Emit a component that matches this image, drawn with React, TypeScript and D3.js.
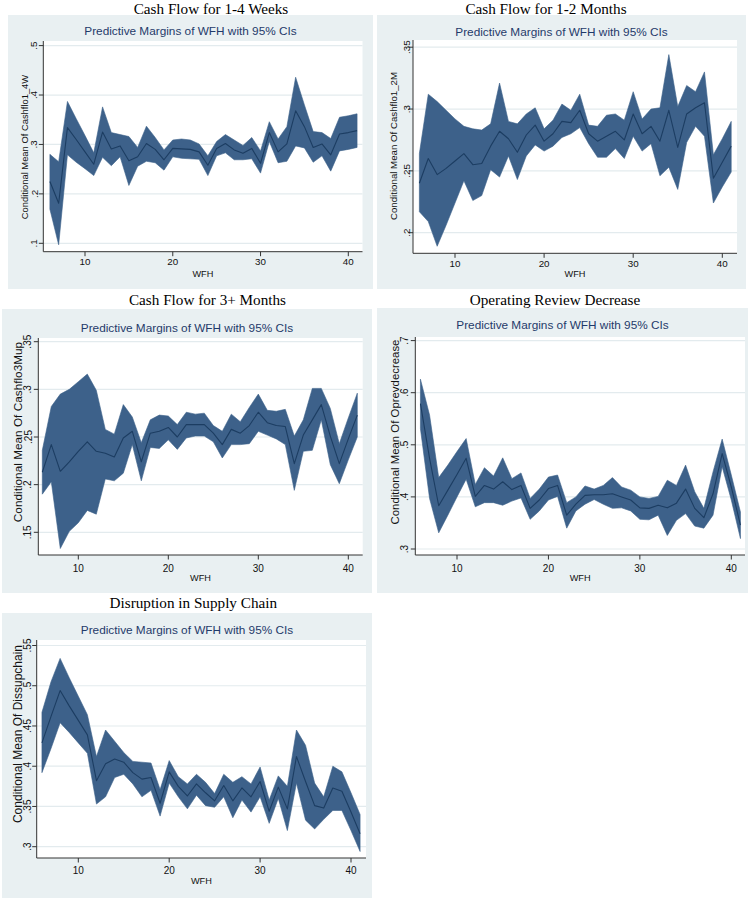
import React from 'react';
import * as d3 from 'd3';

const WFH = [6, 7, 8, 9, 10, 11, 12, 13, 14, 15, 16, 17, 18, 19, 20, 21, 22, 23, 24, 25, 26, 27, 28, 29, 30, 31, 32, 33, 34, 35, 36, 37, 38, 39, 40, 41];

const cf14Mean = [0.225, 0.181, 0.334, 0.310, 0.285, 0.260, 0.325, 0.291, 0.297, 0.267, 0.275, 0.302, 0.290, 0.269, 0.292, 0.291, 0.290, 0.285, 0.258, 0.292, 0.302, 0.289, 0.282, 0.292, 0.262, 0.324, 0.285, 0.301, 0.368, 0.336, 0.294, 0.301, 0.279, 0.321, 0.324, 0.328];
const cf14Upper = [0.280, 0.265, 0.387, 0.352, 0.318, 0.283, 0.376, 0.324, 0.320, 0.316, 0.294, 0.337, 0.314, 0.289, 0.309, 0.311, 0.309, 0.301, 0.277, 0.306, 0.320, 0.309, 0.298, 0.314, 0.287, 0.346, 0.311, 0.336, 0.436, 0.380, 0.326, 0.324, 0.312, 0.355, 0.358, 0.362];
const cf14Lower = [0.169, 0.097, 0.279, 0.264, 0.251, 0.237, 0.274, 0.257, 0.275, 0.217, 0.256, 0.266, 0.263, 0.248, 0.275, 0.272, 0.271, 0.270, 0.237, 0.277, 0.283, 0.269, 0.269, 0.271, 0.242, 0.306, 0.263, 0.266, 0.297, 0.293, 0.264, 0.277, 0.246, 0.287, 0.290, 0.294];

const cf12Mean = [0.240, 0.260, 0.247, 0.252, 0.258, 0.264, 0.255, 0.256, 0.270, 0.282, 0.276, 0.265, 0.279, 0.287, 0.274, 0.280, 0.290, 0.289, 0.299, 0.280, 0.274, 0.278, 0.282, 0.275, 0.296, 0.280, 0.286, 0.274, 0.299, 0.269, 0.296, 0.301, 0.305, 0.244, 0.257, 0.270];
const cf12Upper = [0.264, 0.312, 0.306, 0.299, 0.292, 0.286, 0.284, 0.283, 0.288, 0.321, 0.290, 0.288, 0.296, 0.301, 0.284, 0.291, 0.304, 0.299, 0.312, 0.287, 0.286, 0.295, 0.296, 0.291, 0.314, 0.292, 0.300, 0.301, 0.344, 0.302, 0.319, 0.314, 0.330, 0.263, 0.276, 0.290];
const cf12Lower = [0.217, 0.209, 0.189, 0.206, 0.224, 0.242, 0.226, 0.230, 0.251, 0.245, 0.262, 0.243, 0.262, 0.271, 0.266, 0.270, 0.277, 0.280, 0.285, 0.272, 0.261, 0.261, 0.268, 0.260, 0.278, 0.266, 0.272, 0.246, 0.253, 0.235, 0.273, 0.286, 0.278, 0.224, 0.237, 0.249];

const cf3Mean = [0.213, 0.242, 0.214, 0.224, 0.235, 0.245, 0.235, 0.233, 0.229, 0.249, 0.256, 0.224, 0.254, 0.256, 0.260, 0.250, 0.263, 0.263, 0.263, 0.254, 0.242, 0.258, 0.254, 0.262, 0.276, 0.265, 0.262, 0.261, 0.222, 0.252, 0.268, 0.284, 0.251, 0.222, 0.248, 0.273];
const cf3Upper = [0.236, 0.282, 0.295, 0.300, 0.308, 0.316, 0.299, 0.258, 0.253, 0.284, 0.271, 0.244, 0.268, 0.273, 0.272, 0.263, 0.276, 0.274, 0.275, 0.262, 0.256, 0.274, 0.266, 0.281, 0.295, 0.278, 0.277, 0.279, 0.251, 0.268, 0.301, 0.301, 0.280, 0.243, 0.270, 0.296];
const cf3Lower = [0.190, 0.203, 0.133, 0.151, 0.160, 0.173, 0.169, 0.206, 0.204, 0.212, 0.242, 0.204, 0.239, 0.238, 0.247, 0.237, 0.249, 0.251, 0.251, 0.245, 0.228, 0.242, 0.242, 0.243, 0.256, 0.252, 0.248, 0.242, 0.194, 0.235, 0.236, 0.268, 0.221, 0.201, 0.226, 0.250];

const oprevMean = [0.579, 0.474, 0.383, 0.413, 0.443, 0.474, 0.401, 0.422, 0.415, 0.429, 0.414, 0.422, 0.378, 0.394, 0.416, 0.422, 0.365, 0.386, 0.403, 0.404, 0.404, 0.406, 0.400, 0.394, 0.379, 0.378, 0.384, 0.379, 0.388, 0.415, 0.378, 0.360, 0.406, 0.483, 0.419, 0.346];
const oprevUpper = [0.626, 0.557, 0.437, 0.461, 0.487, 0.512, 0.424, 0.456, 0.440, 0.475, 0.435, 0.446, 0.397, 0.415, 0.438, 0.442, 0.389, 0.400, 0.421, 0.415, 0.422, 0.437, 0.419, 0.413, 0.400, 0.397, 0.401, 0.432, 0.422, 0.461, 0.410, 0.378, 0.448, 0.511, 0.442, 0.371];
const oprevLower = [0.531, 0.397, 0.331, 0.365, 0.400, 0.434, 0.381, 0.389, 0.389, 0.384, 0.392, 0.398, 0.357, 0.373, 0.394, 0.401, 0.340, 0.373, 0.386, 0.395, 0.386, 0.378, 0.379, 0.373, 0.357, 0.356, 0.365, 0.326, 0.355, 0.368, 0.344, 0.340, 0.365, 0.458, 0.394, 0.320];

const disMean = [0.429, 0.462, 0.494, 0.475, 0.457, 0.439, 0.382, 0.403, 0.409, 0.405, 0.392, 0.384, 0.386, 0.354, 0.393, 0.375, 0.363, 0.378, 0.367, 0.357, 0.376, 0.357, 0.373, 0.362, 0.381, 0.344, 0.374, 0.347, 0.412, 0.381, 0.351, 0.348, 0.373, 0.369, 0.343, 0.316];
const disUpper = [0.467, 0.505, 0.534, 0.510, 0.487, 0.464, 0.412, 0.445, 0.431, 0.417, 0.406, 0.405, 0.404, 0.371, 0.407, 0.387, 0.378, 0.390, 0.380, 0.366, 0.390, 0.380, 0.387, 0.378, 0.399, 0.358, 0.388, 0.375, 0.445, 0.426, 0.379, 0.362, 0.400, 0.393, 0.367, 0.340];
const disLower = [0.392, 0.422, 0.454, 0.442, 0.429, 0.416, 0.353, 0.362, 0.386, 0.390, 0.378, 0.362, 0.370, 0.338, 0.379, 0.362, 0.347, 0.364, 0.351, 0.349, 0.362, 0.336, 0.358, 0.343, 0.362, 0.329, 0.360, 0.320, 0.379, 0.333, 0.322, 0.334, 0.345, 0.345, 0.320, 0.294];

const yTicksCf14 = [0.1, 0.2, 0.3, 0.4, 0.5];
const yTicksCf12 = [0.2, 0.25, 0.3, 0.35];
const yTicksCf3 = [0.15, 0.2, 0.25, 0.3, 0.35];
const yTicksOprev = [0.3, 0.4, 0.5, 0.6, 0.7];
const yTicksDis = [0.3, 0.35, 0.4, 0.45, 0.5, 0.55];
const xTicks = [10, 20, 30, 40];

const panelTitles = ['Cash Flow for 1-4 Weeks', 'Cash Flow for 1-2 Months', 'Cash Flow for 3+ Months', 'Operating Review Decrease', 'Disruption in Supply Chain'];
const yTitles = ['Conditional Mean Of Cashflo1_4W', 'Conditional Mean Of Cashflo1_2M', 'Conditional Mean Of Cashflo3Mup', 'Conditional Mean Of Oprevdecrease', 'Conditional Mean Of Dissupchain'];
const subtitle = 'Predictive Margins of WFH with 95% CIs';
const xTitle = 'WFH';

const BG = '#e9f0f2';
const GRID = '#e3ebee';
const BAND = '#3d618a';
const LINE = '#1c3d62';
const SUB = '#1f3a6a';
const AXIS = '#333333';
const SANS = '"Liberation Sans", Arial, Helvetica, sans-serif';
const SERIF = '"Liberation Serif", "Times New Roman", serif';

type Layout = {
  bg: [number, number, number, number];
  plot: { l: number; r: number; t: number; b: number };
  yMap: [number, number, number, number];
  xMap: [number, number, number, number];
  titleX: number; titleY: number;
  subY: number;
  yTitleX: number; yTitleY: number; yTitleSize: number;
  yTickX: number; tickSize: number;
  xTickY: number; xTitleY: number; xTitleSize: number;
};

const layouts: Layout[] = [
  { bg: [8, 15, 373, 289], plot: { l: 43.3, r: 362.5, t: 41, b: 251.7 }, yMap: [0.1, 243.3, 0.5, 45.6], xMap: [10, 85, 40, 348.3],
    titleX: 211, titleY: 13.5, subY: 35, yTitleX: 24.5, yTitleY: 147, yTitleSize: 9.4, yTickX: 34, tickSize: 9.8, xTickY: 265, xTitleY: 277, xTitleSize: 9.2 },
  { bg: [377, 15, 746, 289], plot: { l: 413, r: 737, t: 40, b: 253.3 }, yMap: [0.2, 232.7, 0.35, 47.2], xMap: [10, 455, 40, 722.3],
    titleX: 546, titleY: 13.5, subY: 36, yTitleX: 393, yTitleY: 146, yTitleSize: 9.7, yTickX: 407, tickSize: 9.8, xTickY: 266.5, xTitleY: 277, xTitleSize: 9.2 },
  { bg: [2, 309, 372, 593], plot: { l: 38.3, r: 362.7, t: 338, b: 555 }, yMap: [0.15, 532.3, 0.35, 341.7], xMap: [10, 78.3, 40, 348.3],
    titleX: 207.5, titleY: 305, subY: 332, yTitleX: 17.5, yTitleY: 432, yTitleSize: 11.8, yTickX: 28, tickSize: 10, xTickY: 572, xTitleY: 580.5, xTitleSize: 9.2 },
  { bg: [377, 308, 748, 593], plot: { l: 415.3, r: 745, t: 337, b: 555 }, yMap: [0.3, 549, 0.7, 340.6], xMap: [10, 457, 40, 731.3],
    titleX: 555, titleY: 305, subY: 329, yTitleX: 394.5, yTitleY: 432, yTitleSize: 11.4, yTickX: 404.5, tickSize: 10, xTickY: 572, xTitleY: 580.5, xTitleSize: 9.2 },
  { bg: [2, 613, 372, 898], plot: { l: 36.7, r: 366, t: 640, b: 858 }, yMap: [0.3, 846.7, 0.55, 645.5], xMap: [10, 78.3, 40, 351],
    titleX: 193.3, titleY: 608, subY: 634, yTitleX: 17.5, yTitleY: 734, yTitleSize: 12, yTickX: 27.5, tickSize: 10, xTickY: 874, xTitleY: 884, xTitleSize: 9.2 },
];

const series = [
  { mean: cf14Mean, upper: cf14Upper, lower: cf14Lower, yTicks: yTicksCf14 },
  { mean: cf12Mean, upper: cf12Upper, lower: cf12Lower, yTicks: yTicksCf12 },
  { mean: cf3Mean, upper: cf3Upper, lower: cf3Lower, yTicks: yTicksCf3 },
  { mean: oprevMean, upper: oprevUpper, lower: oprevLower, yTicks: yTicksOprev },
  { mean: disMean, upper: disUpper, lower: disLower, yTicks: yTicksDis },
];

const fmt = (v: number) => {
  const s = String(+v.toFixed(2));
  return s.startsWith('0') ? s.slice(1) : s;
};

function Panel({ idx }: { idx: number }) {
  const L = layouts[idx];
  const S = series[idx];
  const x = d3.scaleLinear().domain([L.xMap[0], L.xMap[2]]).range([L.xMap[1], L.xMap[3]]);
  const y = d3.scaleLinear().domain([L.yMap[0], L.yMap[2]]).range([L.yMap[1], L.yMap[3]]);
  const idxs = WFH.map((_, i) => i);
  const area = d3.area<number>().x((i) => x(WFH[i])).y0((i) => y(S.lower[i])).y1((i) => y(S.upper[i]));
  const line = d3.line<number>().x((i) => x(WFH[i])).y((i) => y(S.mean[i]));
  const { plot } = L;
  const [bx0, by0, bx1, by1] = L.bg;
  return (
    <g>
      <text x={L.titleX} y={L.titleY} textAnchor="middle" fontFamily={SERIF} fontSize={15.2} fill="#000">{panelTitles[idx]}</text>
      <rect x={bx0} y={by0} width={bx1 - bx0} height={by1 - by0} fill={BG} />
      <rect x={plot.l} y={plot.t} width={plot.r - plot.l} height={plot.b - plot.t} fill="#fff" />
      {S.yTicks.map((t) => (
        <line key={'g' + t} x1={plot.l} x2={plot.r} y1={y(t)} y2={y(t)} stroke={GRID} strokeWidth={1.2} />
      ))}
      <text x={(bx0 + bx1) / 2} y={L.subY} textAnchor="middle" fontFamily={SANS} fontSize={11.8} fill={SUB}>{subtitle}</text>
      <path d={area(idxs) || ''} fill={BAND} stroke={BAND} strokeWidth={0.6} strokeLinejoin="round" />
      <path d={line(idxs) || ''} fill="none" stroke={LINE} strokeWidth={1.1} strokeLinejoin="round" />
      <line x1={plot.l} x2={plot.l} y1={plot.t} y2={plot.b} stroke={AXIS} strokeWidth={1} />
      <line x1={plot.l} x2={plot.r} y1={plot.b} y2={plot.b} stroke={AXIS} strokeWidth={1} />
      {S.yTicks.map((t) => (
        <g key={'yt' + t}>
          <line x1={plot.l - 4.5} x2={plot.l} y1={y(t)} y2={y(t)} stroke={AXIS} strokeWidth={1} />
          <text x={L.yTickX} y={y(t)} transform={`rotate(-90 ${L.yTickX} ${y(t)})`} textAnchor="middle" dominantBaseline="central" fontFamily={SANS} fontSize={L.tickSize} fill="#111">{fmt(t)}</text>
        </g>
      ))}
      {xTicks.map((t) => (
        <g key={'xt' + t}>
          <line x1={x(t)} x2={x(t)} y1={plot.b} y2={plot.b + 4.5} stroke={AXIS} strokeWidth={1} />
          <text x={x(t)} y={L.xTickY} textAnchor="middle" fontFamily={SANS} fontSize={L.tickSize} fill="#111">{t}</text>
        </g>
      ))}
      <text x={(plot.l + plot.r) / 2} y={L.xTitleY} textAnchor="middle" fontFamily={SANS} fontSize={L.xTitleSize} fill="#111">{xTitle}</text>
      <text x={L.yTitleX} y={L.yTitleY} transform={`rotate(-90 ${L.yTitleX} ${L.yTitleY})`} textAnchor="middle" dominantBaseline="central" fontFamily={SANS} fontSize={L.yTitleSize} fill="#111">{yTitles[idx]}</text>
    </g>
  );
}

export default function App() {
  return (
    <svg width={756} height={898} viewBox="0 0 756 898" style={{ position: 'absolute', left: 0, top: 0, display: 'block', background: '#fff' }}>
      <rect x={0} y={0} width={756} height={898} fill="#fff" />
      {layouts.map((_, i) => (
        <Panel key={i} idx={i} />
      ))}
    </svg>
  );
}
